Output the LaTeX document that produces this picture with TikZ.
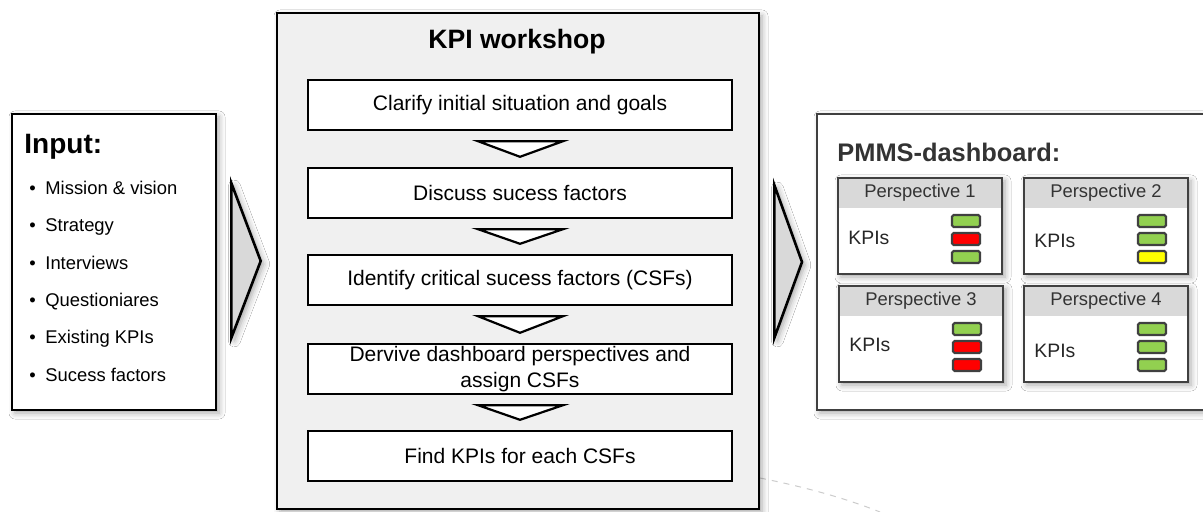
\documentclass[tikz,border=0pt]{standalone}
\usepackage{fontspec}
\setmainfont{Liberation Sans}
\usetikzlibrary{calc,shadows.blur}

\definecolor{ledg}{HTML}{92D050}
\definecolor{ledr}{HTML}{FF0000}
\definecolor{ledy}{HTML}{FFFF00}

\tikzset{
  soft/.style={blur shadow={shadow xshift=1.5pt, shadow yshift=-1.5pt, shadow blur radius=3pt, shadow opacity=35}},
  frame/.style={draw=black, line width=1.3pt, soft},
  stepbox/.style={draw=black, line width=1.2pt, fill=white, minimum width=212pt, minimum height=25pt,
    inner sep=1pt, align=center, font=\fontsize{10.5}{13}\selectfont},
  chev/.style={draw=black, line width=1.1pt, fill=white},
  bigarrow/.style={draw=black, line width=1.3pt, fill=black!15, line join=miter, soft},
  panel/.style={draw=black!75, line width=1pt, fill=white, minimum width=82pt, minimum height=48pt, soft,
    path picture={\fill[black!15] (path picture bounding box.north west) rectangle ([yshift=-15pt]path picture bounding box.north east);}},
  led/.style={draw=black!75, line width=1.1pt, rounded corners=0.8pt},
}

\begin{document}
\begin{tikzpicture}[x=0.5pt, y=-0.5pt]
\path[use as bounding box, fill=white] (0,0) rectangle (1203,512);

% background
\draw[gray!40, dashed, line width=0.5pt] (760,478) .. controls (810,488) and (850,500) .. (880,512);

% input
\node[frame, fill=white, minimum width=102pt, minimum height=148pt] (input) at (114,262) {};
\node[anchor=west, inner sep=0, font=\bfseries\fontsize{14}{16}\selectfont] (intitle) at (24,147) {Input:};
\foreach \t [count=\i] in {Mission \& vision, Strategy, Interviews, Questioniares, Existing KPIs, Sucess factors}
  \node[anchor=base west, inner sep=0, font=\fontsize{9.2}{11}\selectfont] (in\i) at (29,157+37.4*\i)
    {\makebox[8pt][l]{\textbullet}\t};

% workshop
\node[frame, fill=black!6, minimum width=241pt, minimum height=248pt] (ws) at (518,261) {};
\node[font=\bfseries\fontsize{13.3}{15}\selectfont] (wstitle) at (517,42) {KPI workshop};

\node[stepbox] (s1) at (520,105) {Clarify initial situation and goals};
\node[stepbox] (s2) at (520,193) {Discuss sucess factors};
\node[stepbox] (s3) at (520,280) {Identify critical sucess factors (CSFs)};
\node[stepbox] (s4) at (520,369) {Dervive dashboard perspectives and\\assign CSFs};
\node[stepbox] (s5) at (520,456) {Find KPIs for each CSFs};

\foreach \a/\b in {s1/s2,s2/s3,s3/s4,s4/s5}
  \draw[chev] ($(\a.south)+(-42,10)$) -- ($(\a.south)+(43,10)$) -- ($(\b.north)+(0,-10)$) -- cycle;

% dashboard
\node[draw=black!75, line width=1pt, fill=white, soft, minimum width=199pt, minimum height=148pt] (dash) at (1016,262) {};
\node[anchor=west, inner sep=0, text=black!80, font=\bfseries\fontsize{12.7}{15}\selectfont] (dashtitle) at (837,152) {PMMS-dashboard:};

\foreach \px/\py/\n/\ky/\ca/\cb/\cc in {837/177/1/61/ledg/ledr/ledg, 1023/177/2/64/ledg/ledg/ledy,
    838/285/3/60/ledg/ledr/ledr, 1023/285/4/66/ledg/ledg/ledg}{
  \node[panel, anchor=north west] (p\n) at (\px,\py) {};
  \node[text=black!80, font=\fontsize{9.2}{11}\selectfont] (p\n t) at ($(p\n.north)+(0,16)$) {Perspective \n};
  \node[anchor=west, inner sep=0, text=black!85, font=\fontsize{9.7}{11}\selectfont] (p\n k) at ($(p\n.north west)+(11,\ky)$) {KPIs};
  \foreach \c [count=\j] in {\ca,\cb,\cc}
    \draw[led, fill=\c] ($(p\n.north west)+(115,20+18*\j)$) rectangle +(28,12);
}

% arrows
\draw[bigarrow] ($(input.east)+(14,-79)$) -- ($(ws.west)+(-15,0)$) -- ($(input.east)+(14,76)$) -- cycle;
\draw[bigarrow] ($(ws.east)+(14,-76)$) -- ($(dash.west)+(-14,0)$) -- ($(ws.east)+(14,77)$) -- cycle;
\end{tikzpicture}
\end{document}
